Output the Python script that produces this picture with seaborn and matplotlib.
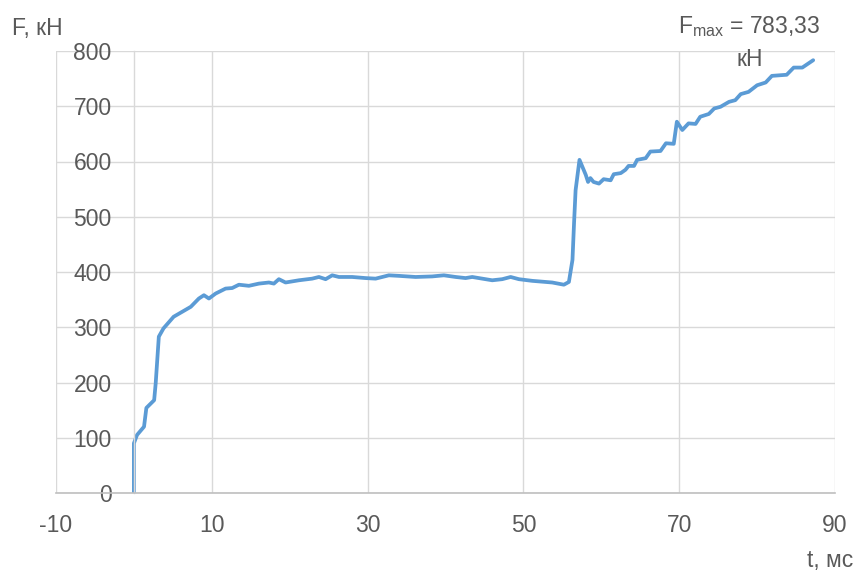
import numpy as np
import pandas as pd
import matplotlib
matplotlib.use('Agg')
import matplotlib.pyplot as plt
import seaborn as sns

# Données : temps (ms) et effort (kN)
t_ms = [0, 0, 0.4, 1.3, 1.6, 2.6, 2.8, 3.0, 3.2, 3.8, 5.1, 7.3,
        8.34, 8.99, 9.63, 10.49, 11.77, 12.62, 13.48, 14.76, 16.05, 17.33,
        17.97, 18.61, 19.47, 21.18, 22.89, 23.75, 24.61, 25.46, 26.32, 28.02,
        29.74, 31.03, 32.73, 34.02, 36.16, 38.29, 39.79, 41.30, 42.58, 43.43,
        44.71, 46.00, 47.28, 48.36, 49.42, 51.13, 53.70, 55.20, 55.84,
        56.3, 56.5, 56.7, 57.2, 58.0, 58.3, 58.6, 59.0, 59.7, 60.3,
        61.2, 61.6, 62.5, 63.1, 63.5, 64.2, 64.6, 65.7, 66.3, 67.6, 68.3, 69.3,
        69.7, 70.4, 71.2, 72.1, 72.7, 73.8, 74.5, 75.3, 76.4, 77.2, 77.9, 78.9,
        80.0, 81.1, 81.9, 83.8, 84.7, 85.8, 87.2]
force_kn = [0, 90, 105, 120, 154, 168, 199, 241, 283, 298, 319, 337,
            352, 358, 352, 361, 370, 371, 377, 375, 379, 381,
            379, 387, 381, 385, 388, 391, 387, 394, 391, 391,
            389, 388, 394, 393, 391, 392, 394, 391, 389, 391,
            388, 385, 387, 391, 387, 384, 381, 377, 382,
            422, 488, 548, 603, 576, 563, 570, 563, 560, 568,
            566, 577, 579, 585, 592, 592, 603, 606, 618, 619, 633, 632,
            672, 657, 669, 668, 681, 686, 696, 699, 708, 711, 722, 726,
            738, 743, 755, 757, 770, 770, 783.33]
x_ticks = [-10, 10, 30, 50, 70, 90]
y_ticks = [0, 100, 200, 300, 400, 500, 600, 700, 800]

df = pd.DataFrame({'t': t_ms, 'F': force_kn})

sns.set_theme(style="whitegrid")
plt.rcParams['font.family'] = ['Liberation Sans', 'DejaVu Sans']
plt.rcParams['mathtext.fontset'] = 'custom'
plt.rcParams['mathtext.rm'] = 'Liberation Sans'
plt.rcParams['axes.unicode_minus'] = False

gris_texte = '#595959'
gris_grille = '#D9D9D9'
taille = 16.5

fig, ax = plt.subplots(figsize=(8.54, 5.71), dpi=100)
fig.subplots_adjust(left=56/854, right=835/854, bottom=1-493/571, top=1-51/571)

sns.lineplot(data=df, x='t', y='F', sort=False, estimator=None,
             color='#5B9BD5', linewidth=2.7, ax=ax)

ax.set_xlim(-10, 90)
ax.set_ylim(0, 800)
ax.set_xticks(x_ticks)
ax.set_yticks(y_ticks)
ax.set_xlabel('')
ax.set_ylabel('')

ax.grid(True, color=gris_grille, linewidth=1.0)
ax.set_facecolor('white')

# axe vertical qui croise à t = 0 (comme dans Excel)
ax.spines['left'].set_position(('data', 0))
ax.spines['left'].set_color(gris_grille)
ax.spines['left'].set_linewidth(1.0)
ax.spines['bottom'].set_color('#BFBFBF')
ax.spines['bottom'].set_linewidth(1.2)
ax.spines['top'].set_visible(False)
ax.spines['right'].set_visible(False)

ax.tick_params(axis='both', length=0, colors=gris_texte, labelsize=taille)
ax.tick_params(axis='y', pad=16)
ax.tick_params(axis='x', pad=15)

fig.text(12/854, 1-35/571, 'F, кН', ha='left', va='baseline', fontsize=taille, color=gris_texte)
fig.text(853/854, 1-567/571, 't, мс', ha='right', va='baseline', fontsize=taille, color=gris_texte)
fig.text(749.5/854, 1-33/571, r'F$_{\mathrm{max}}$ = 783,33', ha='center', va='baseline',
         fontsize=taille, color=gris_texte)
fig.text(750/854, 1-66/571, 'кН', ha='center', va='baseline', fontsize=taille, color=gris_texte)

plt.savefig('out.png', dpi=100)
